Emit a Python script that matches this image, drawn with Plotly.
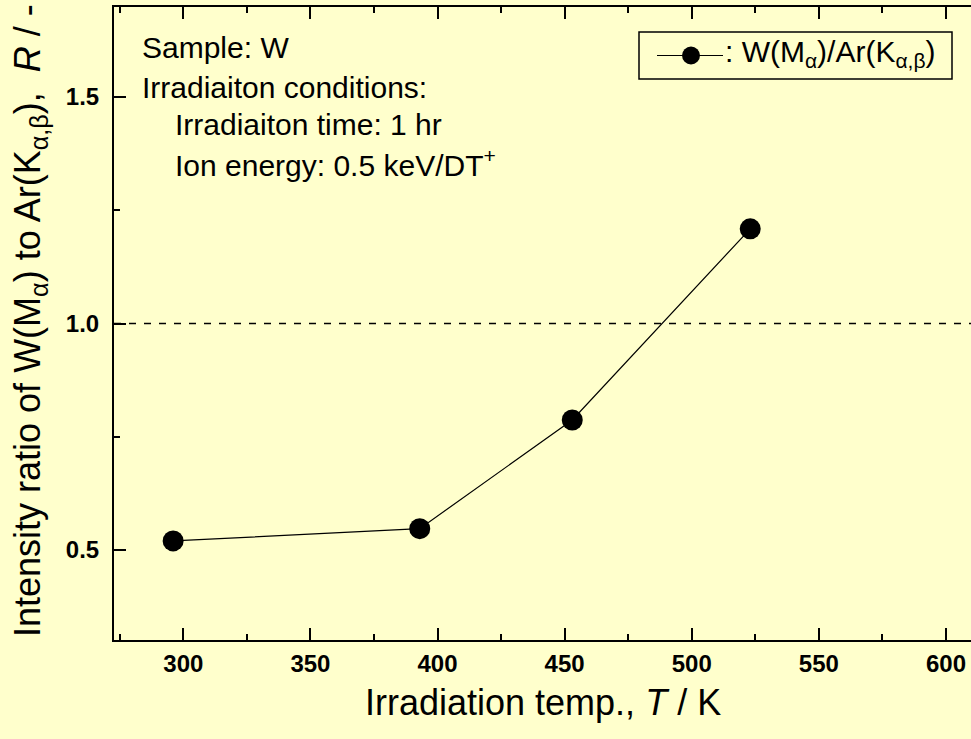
import plotly.graph_objects as go

# Irradiation temperature (K) and measured intensity ratio R
temperature = [296, 393, 453, 523]
ratio = [0.520, 0.547, 0.787, 1.209]

x_ticks = [300, 350, 400, 450, 500, 550, 600]
y_ticks = [0.5, 1.0, 1.5]
y_tick_text = ["0.5", "1.0", "1.5"]
reference_ratio = 1.0

W, H = 971, 739
L, R, T, B = 114, 0, 7, 99
BG = "#FFFFCC"
FONT = "Arial, 'Liberation Sans', sans-serif"

fig = go.Figure()
fig.add_trace(go.Scatter(
    x=temperature, y=ratio, mode="lines+markers",
    line=dict(color="black", width=1.2),
    marker=dict(color="black", size=21),
    showlegend=False, cliponaxis=False,
))

axis_common = dict(
    ticks="inside", ticklen=12, tickwidth=2, tickcolor="black",
    showgrid=False, zeroline=False,
)

fig.update_layout(
    width=W, height=H,
    margin=dict(l=L, r=R, t=T, b=B),
    paper_bgcolor=BG, plot_bgcolor=BG,
    font=dict(family=FONT, color="black"),
    xaxis=dict(
        range=[272.74, 609.84], tickvals=x_ticks,
        showline=True, linewidth=2, linecolor="black", mirror="ticks",
        tickfont=dict(size=24, weight="bold", family=FONT),
        ticklabelstandoff=1,
        minor=dict(ticks="inside", ticklen=6, tickwidth=2, tickcolor="black",
                   tick0=275, dtick=25),
        **axis_common,
    ),
    yaxis=dict(
        range=[0.3013, 1.6987], tickvals=y_ticks, ticktext=y_tick_text,
        showline=True, linewidth=2, linecolor="black",
        tickfont=dict(size=24, weight="bold", family=FONT),
        ticklabelstandoff=8,
        minor=dict(ticks="inside", ticklen=6, tickwidth=2, tickcolor="black",
                   tick0=0.25, dtick=0.25),
        **axis_common,
    ),
    yaxis2=dict(
        overlaying="y", side="right", anchor="x",
        range=[0.3013, 1.6987], tickvals=y_ticks,
        showticklabels=False, showline=False,
        minor=dict(ticks="inside", ticklen=6, tickwidth=2, tickcolor="black",
                   tick0=0.25, dtick=0.25),
        **axis_common,
    ),
)

# horizontal dashed reference at R = 1
fig.add_shape(type="line", xref="paper", x0=0, x1=1, yref="y",
              y0=reference_ratio, y1=reference_ratio,
              line=dict(color="black", width=1.5, dash="7px,8px"))

def px_x(p):
    return (p - L) / (W - L - R)

def px_y(p):
    return (H - B - p) / (H - B - T)

# axis titles
fig.add_annotation(text="Irradiation temp., <i>T</i> / K", xref="paper", yref="paper",
                   x=px_x(543), y=px_y(702), xanchor="center", yanchor="middle",
                   showarrow=False, font=dict(size=36, family=FONT))
fig.add_annotation(text="Intensity ratio of W(M<sub>α</sub>) to Ar(K<sub>α,β</sub>),  <i>R</i> / -",
                   xref="paper", yref="paper", textangle=-90,
                   x=px_x(30), y=px_y(321), xanchor="center", yanchor="middle",
                   showarrow=False, font=dict(size=36, family=FONT))

# sample / irradiation info
info_lines = [
    ("Sample: W", 140, 48),
    ("Irradiaiton conditions:", 140, 87),
    ("Irradiaiton time: 1 hr", 173, 125),
    ("Ion energy: 0.5 keV/DT<sup>+</sup>", 173, 163),
]
for txt, xl, yc in info_lines:
    fig.add_annotation(text=txt, xref="paper", yref="paper",
                       x=px_x(xl), y=px_y(yc), xanchor="left", yanchor="middle",
                       showarrow=False, font=dict(size=30, family=FONT))

# legend box
fig.add_shape(type="rect", xref="paper", yref="paper",
              x0=px_x(639), x1=px_x(952), y0=px_y(79), y1=px_y(32),
              line=dict(color="black", width=1.5), fillcolor=BG)
fig.add_shape(type="line", xref="paper", yref="paper",
              x0=px_x(657), x1=px_x(723), y0=px_y(55.5), y1=px_y(55.5),
              line=dict(color="black", width=1.2))
fig.add_shape(type="circle", xref="paper", yref="paper",
              xsizemode="pixel", ysizemode="pixel",
              xanchor=px_x(691), yanchor=px_y(55.5),
              x0=-9, x1=9, y0=-9, y1=9,
              line=dict(color="black", width=0), fillcolor="black")
fig.add_annotation(text=": W(M<sub>α</sub>)/Ar(K<sub>α,β</sub>)", xref="paper", yref="paper",
                   x=px_x(723), y=px_y(54), xanchor="left", yanchor="middle",
                   showarrow=False, font=dict(size=30, family=FONT))

fig.write_html("out.html")
